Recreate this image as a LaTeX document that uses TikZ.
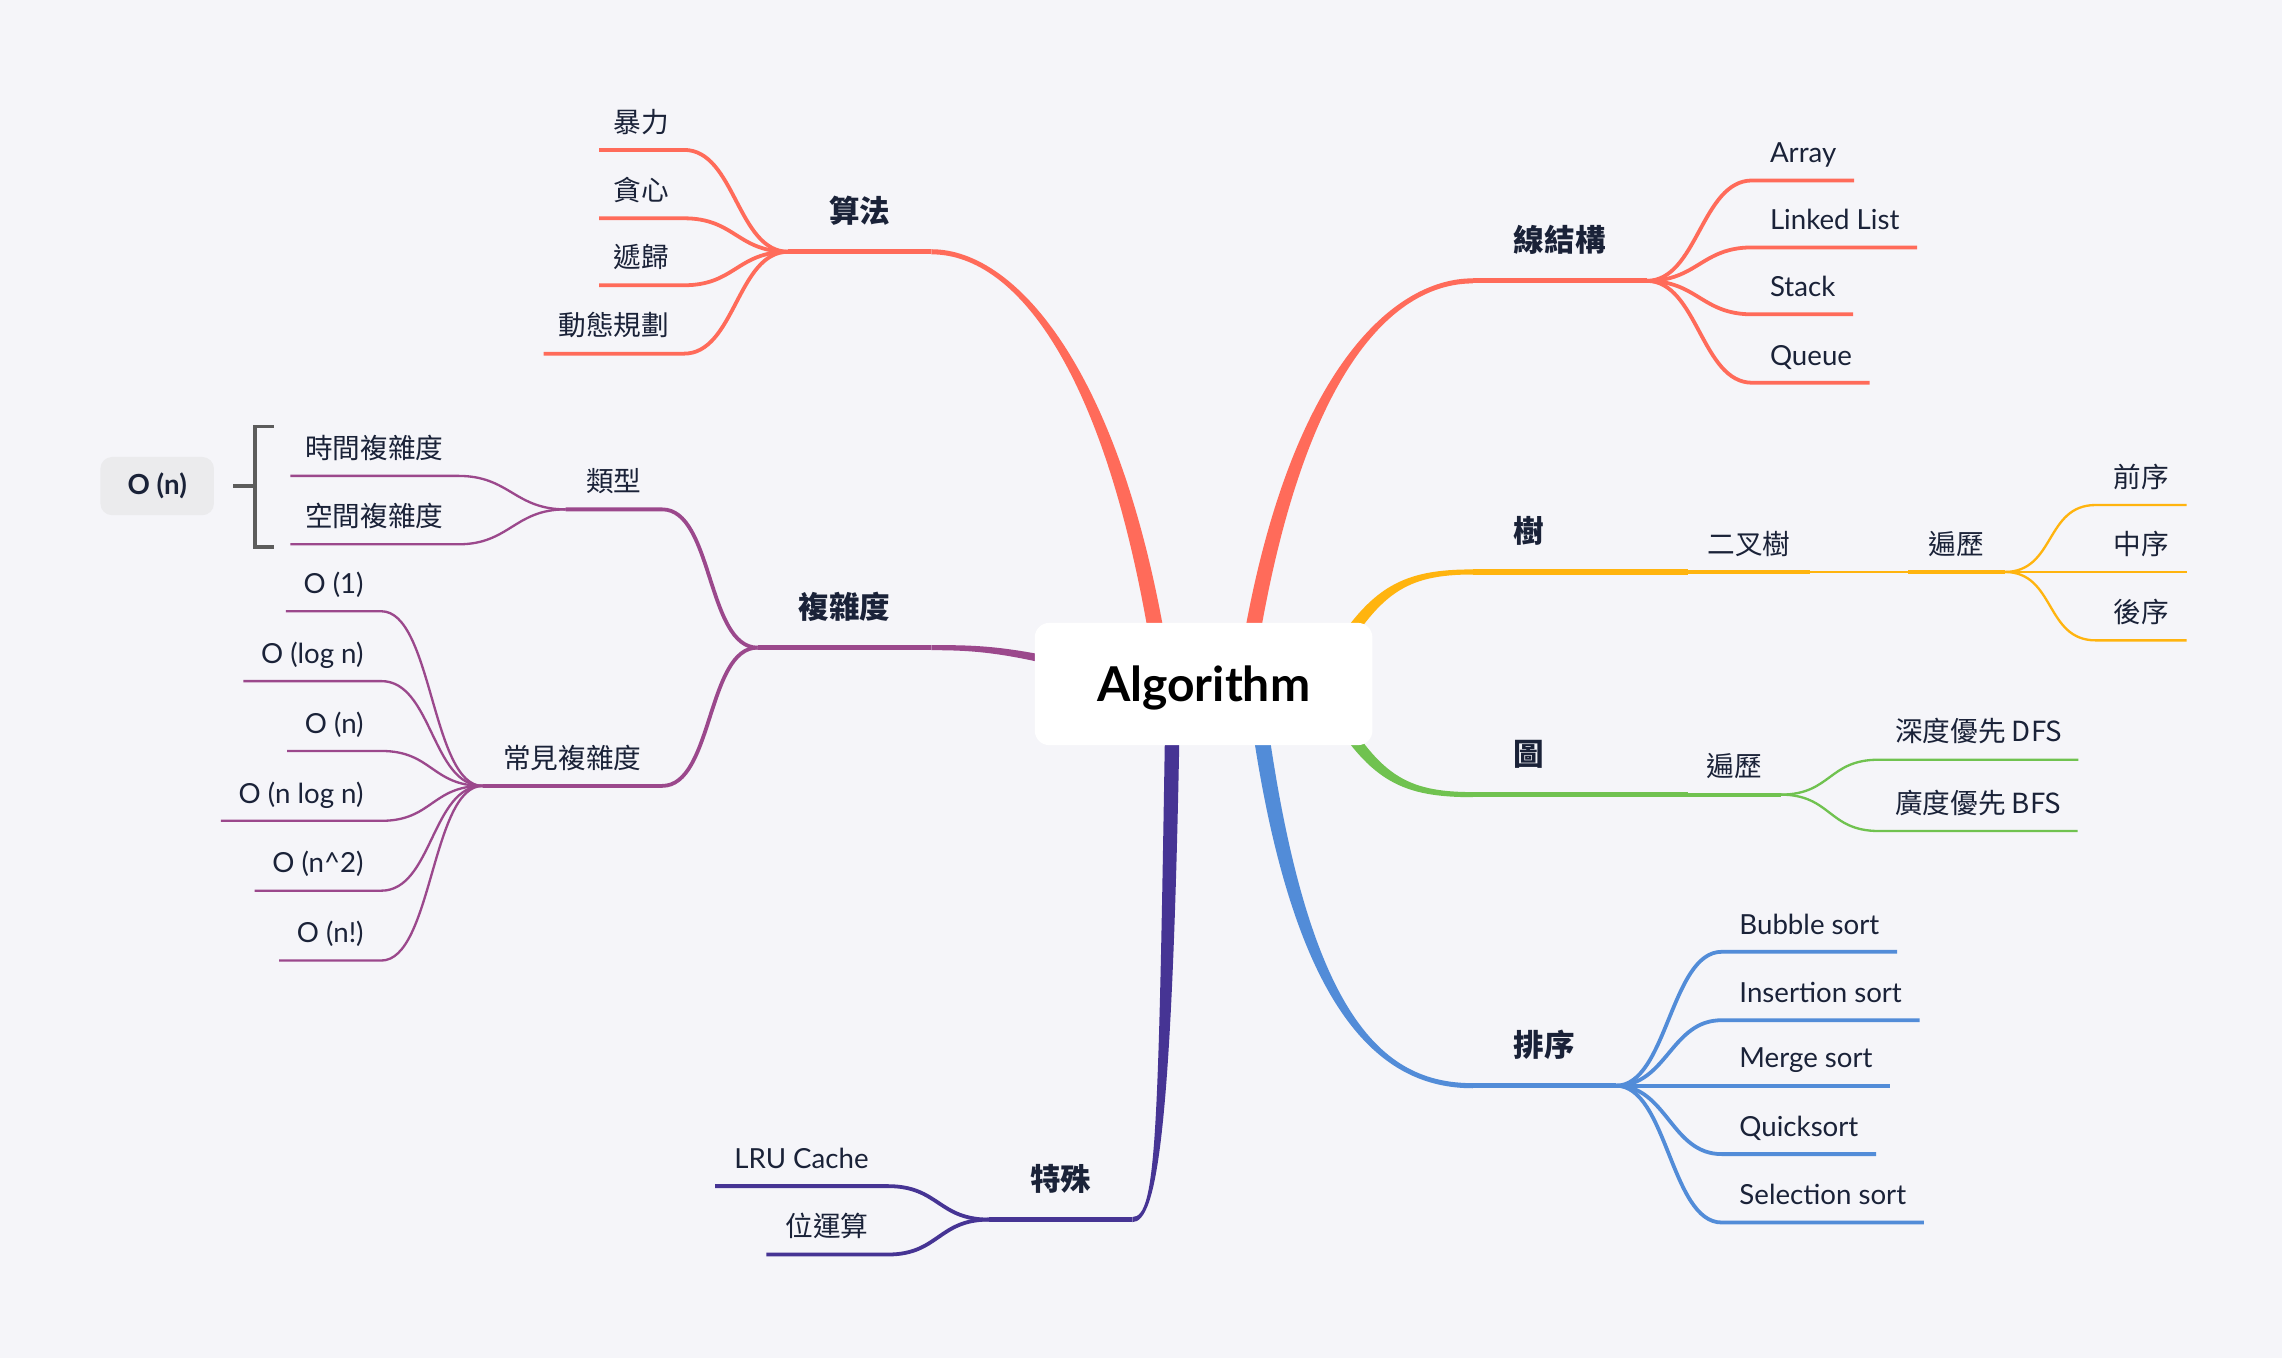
\documentclass[tikz,border=0pt]{standalone}
\usepackage{fontspec}
\setmainfont{Noto Sans CJK TC}
\newfontfamily\lat{Lato}
\usetikzlibrary{backgrounds}

\definecolor{paper}{HTML}{F5F5F9}
\definecolor{ink}{HTML}{1A2238}
\definecolor{coral}{HTML}{FF6B5A}
\definecolor{plum}{HTML}{9B488C}
\definecolor{amber}{HTML}{FFB40F}
\definecolor{grass}{HTML}{70C250}
\definecolor{sky}{HTML}{528CD8}
\definecolor{indigo}{HTML}{463494}
\definecolor{chipgray}{HTML}{EBEBED}
\definecolor{bracketgray}{HTML}{5C5C5C}

\begin{document}
\begin{tikzpicture}[x=1pt, y=-1pt,
  root/.style={fill=white, rounded corners=10pt, minimum width=232pt, minimum height=84pt, text depth=0pt, font=\lat\fontsize{33}{33}\selectfont\bfseries},
  topic/.style={text=ink, text depth=0pt, inner xsep=12pt, inner ysep=12pt, font=\fontsize{19}{19}\selectfont},
  main topic/.style={topic, inner xsep=28pt, inner ysep=20pt, font=\fontsize{21}{21}\selectfont\bfseries},
  chip/.style={fill=chipgray, rounded corners=8pt, minimum width=78pt, minimum height=40pt, text=ink, font=\lat\fontsize{19}{19}\selectfont\bfseries},
  bracket line/.style={draw=bracketgray, line width=2.5pt},
  lvl1/.style={line width=3.5pt},
  lvl2/.style={line width=2.6pt},
  lvl3/.style={line width=1.6pt},
  bough/.style={to path={.. controls +(35,0) and +(-35,0) .. (\tikztotarget)}}]

\useasboundingbox (0,0) rectangle (1568,933);

% centre
\node[root] (root) at (827,470) {Algorithm};

% main topics
\node[main topic, anchor=south east] (algo) at (640,173) {算法};
\node[main topic, anchor=south west] (linear) at (1012,193) {線結構};
\node[main topic, anchor=south west] (tree) at (1012,393) {樹};
\node[main topic, anchor=south west] (graph) at (1012,546) {圖};
\node[main topic, anchor=south west] (sort) at (1012,746) {排序};
\node[main topic, anchor=south east] (special) at (778,838) {特殊};
\node[main topic, anchor=south east] (cplx) at (640,445) {複雜度};

% second level
\node[topic, anchor=south east, inner xsep=14pt] (kind) at (455,350) {類型};
\node[topic, anchor=south east, inner xsep=14pt] (common) at (455,540) {常見複雜度};
\node[topic, anchor=south west, inner xsep=13pt] (bin) at (1160,393) {二叉樹};
\node[topic, anchor=south west, inner xsep=14pt] (walk) at (1311,393) {遍歷};
\node[topic, anchor=south west, inner xsep=12.5pt] (gwalk) at (1160,546) {遍歷};

% leaves
\foreach \t/\yy [count=\i] in {暴力/103, 貪心/150, 遞歸/196, 動態規劃/243}
  \node[topic, anchor=south east, inner xsep=10pt] (algo-\i) at (470,\yy) {\t};

\foreach \t/\yy [count=\i] in {Array/124, Linked List/170, Stack/216, Queue/263}
  \node[topic, anchor=south west] (linear-\i) at (1204,\yy) {\lat \t};

\foreach \t/\yy [count=\i] in {前序/347, 中序/393, 後序/440}
  \node[topic, anchor=south west] (walk-\i) at (1440,\yy) {\t};

\foreach \t/\yy [count=\i] in {深度優先 DFS/522, 廣度優先 BFS/571}
  \node[topic, anchor=south west, inner xsep=11pt] (gwalk-\i) at (1291,\yy) {\t};

\foreach \t/\yy [count=\i] in {Bubble sort/654, Insertion sort/701, Merge sort/746, Quicksort/793, Selection sort/840}
  \node[topic, anchor=south west] (sort-\i) at (1183,\yy) {\lat \t};

\node[topic, anchor=south east, inner xsep=13pt] (special-1) at (610,815) {\lat LRU Cache};
\node[topic, anchor=south east, inner xsep=13pt] (special-2) at (610,862) {位運算};

\foreach \t/\yy [count=\i] in {時間複雜度/327, 空間複雜度/374}
  \node[topic, anchor=south east, inner xsep=10pt] (kind-\i) at (315,\yy) {\t};

\foreach \t [count=\i] in {O (1), O (log n), O (n), O (n log n), O (n\textasciicircum{}2), O (n!)}
  \node[topic, anchor=south east] (common-\i) at (262,372+48*\i) {\lat \t};

% summary
\node[chip] (big-o) at (108,334) {O (n)};
\coordinate (brace-mid) at (175,334);
\draw[bracket line] (188,293) -- (175,293) -- (175,376) -- (188,376);
\draw[bracket line] (brace-mid) -- ([xshift=13pt]big-o.east);

% main topic underlines
\foreach \n/\c in {algo/coral, linear/coral, sort/sky, special/indigo, cplx/plum}
  \draw[lvl1, \c] (\n.south west) -- (\n.south east);
\draw[lvl1, amber] (tree.south west) -- (tree.south east) -- (bin.south west);
\draw[lvl1, grass] (graph.south west) -- (graph.south east) -- (gwalk.south west);

% connectors
\foreach \i in {1,...,4}
  \draw[lvl2, coral] (algo-\i.south west) -- (algo-\i.south east) to[bough] (algo.south west);
\foreach \i in {1,...,4}
  \draw[lvl2, coral] (linear.south east) to[bough] (linear-\i.south west) -- (linear-\i.south east);
\foreach \i in {1,...,5}
  \draw[lvl2, sky] (sort.south east) to[bough] (sort-\i.south west) -- (sort-\i.south east);
\foreach \i in {1,2}
  \draw[lvl2, indigo] (special-\i.south west) -- (special-\i.south east) to[bough] (special.south west);

\foreach \n in {kind, common}
  \draw[lvl2, plum] (\n.south west) -- (\n.south east) to[bough] (cplx.south west);
\foreach \i in {1,2}
  \draw[lvl3, plum] (kind-\i.south west) -- (kind-\i.south east) to[bough] (kind.south west);
\foreach \i in {1,...,6}
  \draw[lvl3, plum] (common-\i.south west) -- (common-\i.south east) to[bough] (common.south west);

\draw[lvl2, amber] (bin.south west) -- (bin.south east);
\draw[lvl3, amber] (bin.south east) -- (walk.south west);
\draw[line width=2.2pt, amber] (walk.south west) -- (walk.south east);
\foreach \i in {1,2,3}
  \draw[lvl3, amber] (walk.south east) to[bough] (walk-\i.south west) -- (walk-\i.south east);

\draw[lvl2, grass] (gwalk.south west) -- (gwalk.south east);
\foreach \i in {1,2}
  \draw[lvl3, grass] (gwalk.south east) to[bough] (gwalk-\i.south west) -- (gwalk-\i.south east);

% tapered branches from the centre
\begin{scope}[on background layer]
\fill[paper] (0,0) rectangle (1568,933);
\fill[coral] ([shift={(-21.5,0)}]root.center) .. controls (775.5,260) and (700,171.25) .. ([shift={(0,-1.75)}]algo.south east)
  -- ([shift={(0,1.75)}]algo.south east) .. controls (700,174.75) and (764.5,260) .. ([shift={(-32.5,0)}]root.center) -- cycle;
\fill[coral] ([shift={(22.5,0)}]root.center) .. controls (879.5,260) and (955,191.25) .. ([shift={(0,-1.75)}]linear.south west)
  -- ([shift={(0,1.75)}]linear.south west) .. controls (955,194.75) and (890.5,260) .. ([shift={(33.5,0)}]root.center) -- cycle;
\fill[amber] ([shift={(85,-18)}]root.center) .. controls (942,402) and (965,391.25) .. ([shift={(0,-1.75)}]tree.south west)
  -- ([shift={(0,1.75)}]tree.south west) .. controls (965,394.75) and (948,408) .. ([shift={(91,-12)}]root.center) -- cycle;
\fill[grass] ([shift={(85,18)}]root.center) .. controls (942,538) and (965,547.75) .. ([shift={(0,1.75)}]graph.south west)
  -- ([shift={(0,-1.75)}]graph.south west) .. controls (965,544.25) and (948,532) .. ([shift={(91,12)}]root.center) -- cycle;
\fill[sky] ([shift={(29.5,0)}]root.center) .. controls (884.5,700) and (950,747.75) .. ([shift={(0,1.75)}]sort.south west)
  -- ([shift={(0,-1.75)}]sort.south west) .. controls (950,744.25) and (895.5,700) .. ([shift={(40.5,0)}]root.center) -- cycle;
\fill[indigo] ([shift={(-16,0)}]root.center) .. controls (806,780) and (795,839.75) .. ([shift={(0,1.75)}]special.south east)
  -- ([shift={(0,-1.75)}]special.south east) .. controls (795,836.25) and (796,780) .. ([shift={(-26,0)}]root.center) -- cycle;
\fill[plum] ([shift={(-87,-15)}]root.center) .. controls (690,443.5) and (670,443.25) .. ([shift={(0,-1.75)}]cplx.south east)
  -- ([shift={(0,1.75)}]cplx.south east) .. controls (670,446.75) and (690,448.5) .. ([shift={(-87,-9)}]root.center) -- cycle;
\end{scope}

\end{tikzpicture}
\end{document}
